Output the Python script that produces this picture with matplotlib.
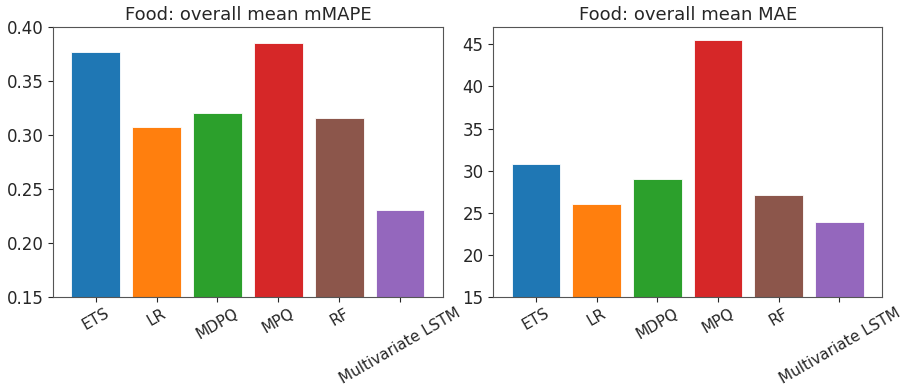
import matplotlib
matplotlib.use("Agg")
import matplotlib.pyplot as plt

models = ["ETS", "LR", "MDPQ", "MPQ", "RF", "Multivariate LSTM"]
mmape = [0.3766, 0.3075, 0.3200, 0.3850, 0.3158, 0.2310]
mae = [30.84, 26.10, 29.03, 45.47, 27.13, 23.89]
colors = ["#1f77b4", "#ff7f0e", "#2ca02c", "#d62728", "#8c564b", "#9467bd"]

plt.rcParams["font.family"] = "DejaVu Sans"
plt.rcParams["text.color"] = "#262626"
plt.rcParams["xtick.color"] = "#262626"
plt.rcParams["ytick.color"] = "#262626"
plt.rcParams["axes.edgecolor"] = "#555555"

fig = plt.figure(figsize=(9.04, 3.89), dpi=100)
ax1 = fig.add_axes([53 / 904, 1 - 297.3 / 389, 389.7 / 904, 270.3 / 389])
ax2 = fig.add_axes([493.3 / 904, 1 - 297.3 / 389, 388.7 / 904, 270.3 / 389])

ax1.bar(models, mmape, color=colors, edgecolor="white", linewidth=0.6)
ax1.set_ylim(0.15, 0.40)
ax1.set_yticks([0.15, 0.20, 0.25, 0.30, 0.35, 0.40])
ax1.set_title("Food: overall mean mMAPE", fontsize=13, pad=5)

ax2.bar(models, mae, color=colors, edgecolor="white", linewidth=0.6)
ax2.set_ylim(15, 47.05)
ax2.set_yticks([15, 20, 25, 30, 35, 40, 45])
ax2.set_title("Food: overall mean MAE", fontsize=13, pad=5)

for ax in (ax1, ax2):
    ax.tick_params(axis="y", labelsize=12)
    ax.tick_params(axis="x", labelsize=11, labelrotation=30, pad=2.5)
    ax.set_xlim(-0.7, 5.7)

fig.savefig("out.png", dpi=100)
